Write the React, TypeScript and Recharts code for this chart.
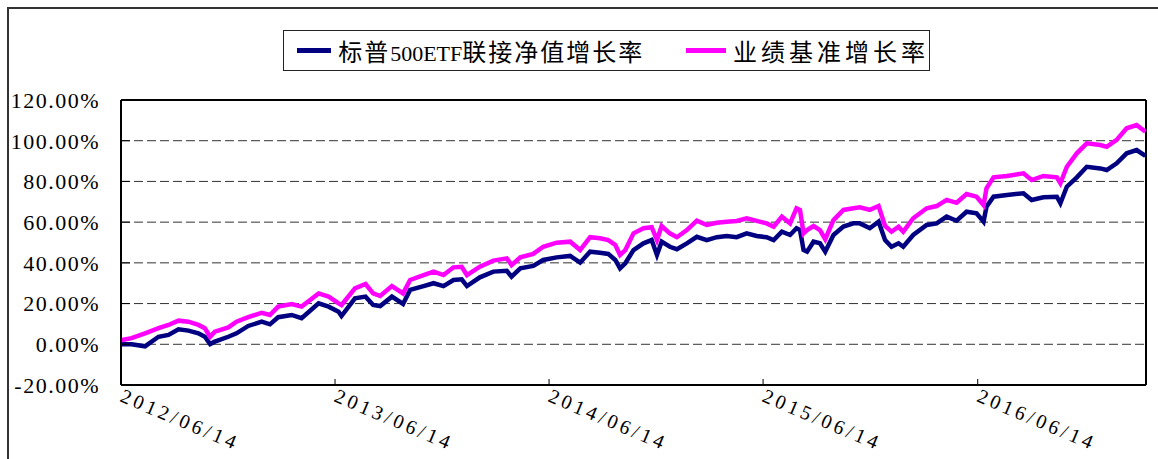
import { LineChart, Line, XAxis, YAxis, CartesianGrid, ReferenceLine } from 'recharts';

// calendar days since 2012/06/14
const days = [
  0, 18, 41, 64, 81, 98, 115, 132, 143, 152, 160, 183, 197, 217, 240, 254, 268, 291, 308, 337,
  354, 371, 376, 399, 417, 430, 442, 462, 481, 493, 516, 533, 550, 567, 581, 590, 612, 635, 658, 666,
  681, 703, 720, 743, 766, 783, 800, 817, 831, 843, 851, 860, 874, 891, 905, 914, 922, 936, 948, 965,
  982, 999, 1016, 1033, 1050, 1067, 1084, 1101, 1113, 1127, 1141, 1152, 1158, 1164, 1170, 1181, 1192, 1201, 1215, 1232,
  1249, 1260, 1277, 1292, 1303, 1314, 1326, 1334, 1351, 1374, 1391, 1408, 1425, 1442, 1459, 1471, 1476, 1488, 1511, 1539,
  1553, 1573, 1596, 1602, 1613, 1630, 1647, 1670, 1681, 1698, 1715, 1732, 1747,
];

const fundGrowth = [
  0, 0, -1, 3.7, 4.6, 7.4, 6.7, 5.4, 3.7, 0.1, 1.3, 3.7, 5.4, 9, 11.1, 9.8, 13.3, 14.4, 12.8, 20.1,
  18.5, 16, 13.9, 22.6, 23.4, 19.3, 18.8, 23.4, 19.8, 26.7, 28.6, 30, 28.6, 31.6, 31.9, 28.6, 32.9, 35.7, 36.1, 33.2,
  37.3, 38.5, 41.4, 42.7, 43.4, 40.1, 45.5, 45, 44.4, 41.4, 37.3, 39.8, 46.3, 49.6, 51.2, 43.9, 50.4, 47.9, 46.7, 49.6,
  52.8, 51.2, 52.6, 53.2, 52.6, 54.5, 53.2, 52.6, 51.2, 55.3, 53.7, 57, 56.1, 46.3, 45.5, 50.4, 49.6, 45.5, 53.7, 57.8,
  59.4, 59.4, 57, 60.2, 51.2, 47.9, 49.6, 47.9, 53.7, 58.6, 59.4, 62.7, 60.7, 65.1, 64.3, 60.2, 67.6, 72.5, 73.3, 74.2,
  70.9, 72.2, 72.5, 69.3, 77.4, 82, 87.2, 86.4, 85.6, 88.9, 93.8, 95.4, 92.5,
];

const benchGrowth = [
  2, 3, 5.4, 7.9, 9.5, 11.6, 11.1, 9.5, 7.9, 3.7, 6.2, 8.3, 11.1, 13.3, 15.5, 14.4, 18.5, 19.8, 18.5, 25,
  23.4, 20.1, 19.3, 27.5, 29.6, 25, 23.7, 28.6, 25, 31.6, 34, 35.7, 34, 37.8, 38.1, 34, 38.1, 41.1, 42.2, 38.9,
  42.7, 44.4, 47.9, 49.9, 50.4, 46.3, 52.6, 52.1, 51.2, 48.8, 43.9, 46.3, 54.5, 57, 57.5, 51.2, 58.1, 54.5, 52.6, 56.1,
  60.7, 58.6, 59.7, 60.2, 60.6, 61.9, 60.6, 59.4, 57.8, 62.7, 59.4, 66.8, 66, 54.5, 56.1, 58.1, 56.1, 51.6, 61, 66,
  66.8, 67.3, 66, 67.9, 58.1, 55.3, 57.8, 55.3, 61.9, 66.8, 67.9, 70.9, 69.5, 73.8, 72.5, 68.4, 76.6, 82, 82.7, 84,
  80.7, 82.7, 82, 79.1, 87.2, 93.8, 98.7, 97.9, 97, 100.4, 106.1, 107.7, 104.4,
];

const xTicks = [0, 365, 730, 1095, 1461];
const xTickLabels = ['2012/06/14', '2013/06/14', '2014/06/14', '2015/06/14', '2016/06/14'];
const yTicks = [-20, 0, 20, 40, 60, 80, 100, 120];

const data = days.map((d, i) => ({ day: d, fund: fundGrowth[i], bench: benchGrowth[i] }));

const serif = '"Liberation Serif", "DejaVu Serif", "Noto Sans CJK SC", serif';

const YTick = (props: any) => {
  const { x, y, payload } = props;
  return (
    <text x={x} y={y} dy="0.36em" textAnchor="end" fontFamily={serif} fontSize={22} letterSpacing={1.5} fill="#000">
      {payload.value.toFixed(2)}%
    </text>
  );
};

const XTick = (props: any) => {
  const { x, y, payload } = props;
  const idx = xTicks.indexOf(payload.value);
  return (
    <g transform={`translate(${x - 2},${y + 22}) rotate(23)`}>
      <text x={0} y={0} textAnchor="start" fontFamily={serif} fontSize={20} letterSpacing={3.6} fill="#000">
        {xTickLabels[idx]}
      </text>
    </g>
  );
};

export default function App() {
  return (
    <div style={{ position: 'absolute', left: 0, top: 0, width: 1158, height: 459, background: '#fff' }}>
      <div
        style={{
          position: 'absolute',
          left: 7,
          top: 7,
          width: 1151,
          height: 452,
          borderTop: '2px solid #333',
          borderLeft: '2px solid #333',
          boxSizing: 'border-box',
        }}
      />
      <div
        style={{
          position: 'absolute',
          left: 283,
          top: 30,
          width: 647,
          height: 41,
          border: '1px solid #222',
          boxSizing: 'border-box',
          display: 'flex',
          alignItems: 'center',
          fontFamily: '"Noto Sans CJK SC", sans-serif',
          fontSize: 24,
          color: '#000',
          whiteSpace: 'nowrap',
        }}
      >
        <span style={{ display: 'inline-block', width: 37, height: 5, background: '#000080', marginLeft: 13, marginRight: 7 }} />
        <span style={{ letterSpacing: 2 }}>
          标普<span style={{ fontFamily: serif, fontSize: 22, letterSpacing: 0 }}>500ETF</span>联接净值增长率
        </span>
        <span style={{ display: 'inline-block', width: 43, height: 5, background: '#FF00FF', marginLeft: 42, marginRight: 7 }} />
        <span style={{ letterSpacing: 4 }}>业绩基准增长率</span>
      </div>
      <div style={{ position: 'absolute', left: 0, top: 0 }}>
        <LineChart width={1158} height={459} data={data} margin={{ top: 100, right: 12, bottom: 0, left: 0 }}>
          <CartesianGrid horizontal vertical={false} stroke="#333" strokeDasharray="9 4" />
          <XAxis
            dataKey="day"
            type="number"
            domain={[0, 1748]}
            ticks={xTicks}
            tick={<XTick />}
            height={74}
            tickSize={-6}
            tickMargin={0}
            axisLine={{ stroke: '#000', strokeWidth: 2 }}
            tickLine={{ stroke: '#000' }}
            interval={0}
          />
          <YAxis
            type="number"
            domain={[-20, 120]}
            ticks={yTicks}
            tick={<YTick />}
            width={121}
            tickSize={-9}
            tickMargin={30}
            axisLine={{ stroke: '#000', strokeWidth: 2 }}
            tickLine={{ stroke: '#000' }}
            interval={0}
          />
          <ReferenceLine y={120} stroke="#000" strokeWidth={2} />
          <ReferenceLine x={1748} stroke="#000" strokeWidth={2} />
          <Line type="linear" dataKey="fund" stroke="#000080" strokeWidth={4.5} dot={false} isAnimationActive={false} />
          <Line type="linear" dataKey="bench" stroke="#FF00FF" strokeWidth={4.5} dot={false} isAnimationActive={false} />
        </LineChart>
      </div>
    </div>
  );
}
